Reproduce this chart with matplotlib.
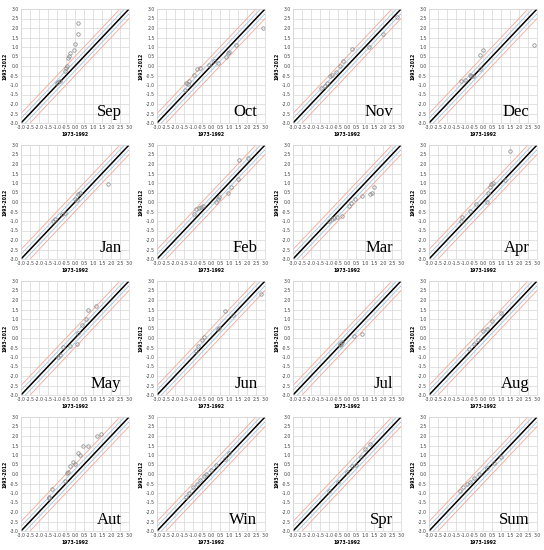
"""
Scatter plots: 1993-2012 vs 1973-1992 anomalies per month / season,
with 1:1 line and +-0.25 / +-0.5 bands.
"""

import matplotlib
matplotlib.use("Agg")
import matplotlib.pyplot as plt
import numpy as np

# ---- data --------------------------------------------------------------
panel_names = ["Sep", "Oct", "Nov", "Dec",
               "Jan", "Feb", "Mar", "Apr",
               "May", "Jun", "Jul", "Aug",
               "Aut", "Win", "Spr", "Sum"]

sep_x = [0.15, 0.15, 0.0, -0.05, -0.27, -0.33, -0.38, -0.46, -0.5, -0.55, -0.83, -0.92, -1.0]
sep_y = [2.26, 1.68, 1.18, 0.86, 0.68, 0.54, 0.4, 0.0, -0.1, -0.28, -0.8, -0.86, -0.9]
oct_x = [-0.77, -0.6, -0.92, -1.2, -1.38, -1.29, -1.47, -0.09, 0.19, 0.37, 0.92, 1.01, 1.38, 2.91, 0.83]
oct_y = [-0.14, -0.1, -0.49, -0.8, -0.9, -0.95, -1.25, 0.07, 0.25, 0.16, 0.68, 0.72, 1.12, 1.98, 0.5]
nov_x = [2.76, 1.99, 1.2, 0.28, -0.22, -0.37, -0.59, -0.83, -0.92, -1.1, -1.42, -1.2]
nov_y = [2.58, 1.7, 0.98, 0.9, 0.25, 0.02, -0.33, -0.46, -0.51, -0.9, -1.16, -1.03]
dec_x = [2.86, 0.0, -0.15, -0.18, -0.55, -0.64, -0.73, -1.0, -1.2]
dec_y = [1.12, 0.86, 0.6, -0.14, -0.51, -0.54, -0.46, -0.72, -0.77]
jan_x = [1.84, 0.28, 0.19, 0.0, 0.1, -0.55, -0.73, -1.1, -1.2]
jan_y = [0.95, 0.46, 0.4, 0.14, 0.1, -0.56, -0.63, -0.91, -1.0]
feb_x = [1.57, 2.03, 1.48, 1.1, 0.92, 0.46, 0.37, 0.28, -0.46, -0.55, -0.64, -0.86, -0.92]
feb_y = [2.21, 2.3, 1.21, 0.81, 0.49, 0.28, 0.14, 0.02, -0.19, -0.25, -0.33, -0.39, -0.63]
mar_x = [1.48, 1.38, 1.29, 0.83, 0.46, 0.24, 0.13, -0.27, -0.55, -0.73, -0.83, -1.0]
mar_y = [0.77, 0.49, 0.42, 0.32, 0.14, -0.04, -0.19, -0.74, -0.81, -0.86, -0.9, -1.0]
apr_x = [1.51, 1.2, 0.55, 0.46, 0.37, 0.28, 0.22, -0.37, -0.73, -1.14, -1.2]
apr_y = [2.7, 1.16, 1.02, 0.93, 0.81, 0.49, -0.02, -0.1, -0.47, -0.77, -1.0]
may_x = [1.14, 0.74, 0.61, 0.37, 0.19, 0.1, -0.27, -0.64, -0.83, -0.97]
may_y = [1.71, 1.49, 1.0, 0.66, 0.27, -0.31, -0.4, -0.45, -0.89, -1.01]
jun_x = [2.76, 0.79, 1.2, 0.46, 0.37, -0.37, -0.5, -0.73, -0.83]
jun_y = [2.33, 1.4, 1.22, 0.53, 0.48, 0.04, -0.13, -0.43, -0.66]
jul_x = [0.83, 0.37, -0.37, -0.4, -0.27, -0.33]
jul_y = [0.22, 0.1, -0.31, -0.36, -0.22, -0.3]
aug_x = [-0.8, -0.5, -0.3, 0.0, 0.2, 0.5, 1.0]
aug_y = [-0.6, -0.3, -0.1, 0.37, 0.5, 0.9, 1.3]
aut_x = [1.2, 1.44, 0.7, 0.46, 0.28, 0.19, -0.09, 0.0, -0.27, -0.37, -0.46, -0.55, -1.29, -1.42, -1.47]
aut_y = [2.02, 2.08, 1.46, 1.46, 0.99, 1.08, 0.61, 0.52, 0.43, 0.12, 0.03, -0.35, -0.79, -1.19, -1.26]
win_x = [-1.4, -1.2, -1.0, -0.8, -0.6, -0.4, -0.3, 0.0, 0.3, 0.8, 1.0]
win_y = [-1.2, -1.0, -0.7, -0.5, -0.3, -0.1, 0.0, 0.2, 0.5, 0.8, 1.1]
spr_x = [-1.0, -0.5, 0.0, 0.3, 0.5, 0.8, 1.0, 1.3]
spr_y = [-0.9, -0.4, 0.1, 0.4, 0.5, 0.9, 1.3, 1.6]
sum_x = [-1.3, -1.1, -0.9, -0.7, -0.5, -0.2, 0.2, 0.6, 1.0]
sum_y = [-0.9, -0.7, -0.5, -0.4, -0.2, 0.0, 0.3, 0.6, 0.9]

xs = [sep_x, oct_x, nov_x, dec_x, jan_x, feb_x, mar_x, apr_x,
      may_x, jun_x, jul_x, aug_x, aut_x, win_x, spr_x, sum_x]
ys = [sep_y, oct_y, nov_y, dec_y, jan_y, feb_y, mar_y, apr_y,
      may_y, jun_y, jul_y, aug_y, aut_y, win_y, spr_y, sum_y]

ticks = np.arange(-3.0, 3.01, 0.5)
W, H = 544, 550

fig = plt.figure(figsize=(W / 100, H / 100), dpi=100)
fig.patch.set_facecolor("white")

line = np.array([-3.0, 3.0])

for k, name in enumerate(panel_names):
    row, col = divmod(k, 4)
    left = (21 + 136 * col) / W
    bottom = 1 - (123 + 136 * row) / H
    ax = fig.add_axes([left, bottom, 108 / W, 114 / H])

    ax.plot(line, line + 0.5, color="#f0a898", lw=0.6)
    ax.plot(line, line - 0.5, color="#f0a898", lw=0.6)
    ax.plot(line, line + 0.25, color="#a8c0dc", lw=0.6)
    ax.plot(line, line - 0.25, color="#a8c0dc", lw=0.6)
    ax.plot(line, line, color="black", lw=1.1)
    ax.plot(xs[k], ys[k], "o", ms=2.5, mfc="none", mec="#8a8a8a", mew=0.55)

    ax.set_xlim(-3, 3)
    ax.set_ylim(-3, 3)
    ax.set_xticks(ticks)
    ax.set_yticks(ticks)
    ax.set_xticklabels([f"{t:.1f}" for t in ticks])
    ax.set_yticklabels([f"{t:.1f}" for t in ticks])
    ax.tick_params(labelsize=3.3, length=0, pad=1.5, colors="#444444")
    ax.grid(True, color="#d6d6d6", lw=0.5)
    ax.set_axisbelow(True)
    for s in ax.spines.values():
        s.set_color("#d6d6d6")
        s.set_linewidth(0.5)
    ax.set_xlabel("1973-1992", fontsize=3.3, fontweight="bold", labelpad=1.5)
    ax.set_ylabel("1993-2012", fontsize=3.3, fontweight="bold", labelpad=1.5)
    ax.text(0.93, 0.03, name, transform=ax.transAxes, ha="right", va="bottom",
            fontsize=12, family="Liberation Serif")

fig.savefig("out.png", dpi=100)
